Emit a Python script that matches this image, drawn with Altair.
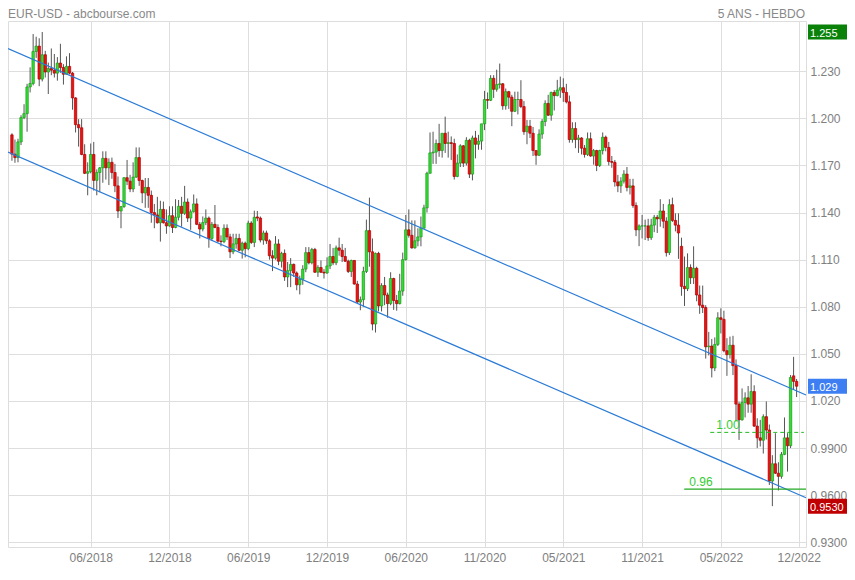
import json
import altair as alt
import pandas as pd

# ---------------- data (weekly EUR-USD candles) ----------------
opens = [
    1.1895, 1.1772, 1.1750, 1.1850, 1.2005, 1.2030, 1.2200, 1.2222, 1.2426, 1.2460,
    1.2250, 1.2405, 1.2295, 1.2317, 1.2307, 1.2288, 1.2352, 1.2324, 1.2281, 1.2331,
    1.2288, 1.2130, 1.1960, 1.1940, 1.1770, 1.1650, 1.1660, 1.1770, 1.1605, 1.1655,
    1.1685, 1.1745, 1.1685, 1.1720, 1.1655, 1.1570, 1.1410, 1.1438, 1.1622, 1.1600,
    1.1550, 1.1626, 1.1750, 1.1604, 1.1525, 1.1560, 1.1510, 1.1400, 1.1385, 1.1335,
    1.1420, 1.1335, 1.1315, 1.1380, 1.1305, 1.1370, 1.1440, 1.1395, 1.1467, 1.1365,
    1.1405, 1.1455, 1.1325, 1.1295, 1.1336, 1.1365, 1.1235, 1.1325, 1.1305, 1.1218,
    1.1215, 1.1300, 1.1245, 1.1150, 1.1200, 1.1235, 1.1160, 1.1205, 1.1170, 1.1333,
    1.1210, 1.1372, 1.1365, 1.1225, 1.1270, 1.1220, 1.1125, 1.1110, 1.1200, 1.1090,
    1.1140, 1.0990, 1.1030, 1.1070, 1.1015, 1.0940, 1.0975, 1.1040, 1.1145, 1.1080,
    1.1165, 1.1020, 1.1050, 1.1020, 1.1015, 1.1060, 1.1120, 1.1080, 1.1175, 1.1160,
    1.1120, 1.1090, 1.1025, 1.1095, 1.0945, 1.0830, 1.0845, 1.1025, 1.1285, 1.1150,
    1.0690, 1.1140, 1.0805, 1.0935, 1.0875, 1.0820, 1.0980, 1.0840, 1.0820, 1.0900,
    1.1100, 1.1290, 1.1255, 1.1175, 1.1220, 1.1245, 1.1300, 1.1430, 1.1650, 1.1780,
    1.1785, 1.1840, 1.1795, 1.1905, 1.1840, 1.1845, 1.1840, 1.1630, 1.1715, 1.1825,
    1.1715, 1.1860, 1.1645, 1.1875, 1.1835, 1.1855, 1.1965, 1.2120, 1.2115, 1.2255,
    1.2185, 1.2215, 1.2220, 1.2080, 1.2170, 1.2135, 1.2045, 1.2120, 1.2120, 1.2075,
    1.1915, 1.1950, 1.1905, 1.1795, 1.1765, 1.1900, 1.1980, 1.2095, 1.2020, 1.2165,
    1.2145, 1.2180, 1.2195, 1.2165, 1.2105, 1.1865, 1.1935, 1.1865, 1.1875, 1.1810,
    1.1770, 1.1870, 1.1760, 1.1795, 1.1700, 1.1795, 1.1880, 1.1815, 1.1725, 1.1720,
    1.1595, 1.1570, 1.1600, 1.1645, 1.1560, 1.1570, 1.1445, 1.1290, 1.1315, 1.1315,
    1.1315, 1.1240, 1.1320, 1.1370, 1.1360, 1.1410, 1.1345, 1.1145, 1.1450, 1.1350,
    1.1320, 1.1185, 1.0930, 1.0915, 1.1050, 1.0985, 1.1045, 1.0875, 1.0810, 1.0795,
    1.0545, 1.0550, 1.0410, 1.0560, 1.0730, 1.0720, 1.0520, 1.0495, 1.0555, 1.0425,
    1.0180, 1.0080, 1.0190, 1.0220, 1.0180, 1.0260, 1.0040, 0.9965, 0.9950, 1.0100,
    1.0015, 0.9690, 0.9800, 0.9740, 0.9720, 0.9860, 0.9965, 0.9915, 1.0360, 1.0325,
]
highs = [
    1.1905, 1.1865, 1.1870, 1.2020, 1.2090, 1.2220, 1.2325, 1.2537, 1.2520, 1.2510,
    1.2550, 1.2430, 1.2355, 1.2445, 1.2410, 1.2390, 1.2475, 1.2345, 1.2395, 1.2415,
    1.2295, 1.2135, 1.1995, 1.1995, 1.1835, 1.1720, 1.1840, 1.1850, 1.1675, 1.1690,
    1.1790, 1.1790, 1.1745, 1.1750, 1.1710, 1.1630, 1.1440, 1.1625, 1.1735, 1.1640,
    1.1720, 1.1815, 1.1815, 1.1610, 1.1620, 1.1620, 1.1540, 1.1455, 1.1500, 1.1475,
    1.1470, 1.1420, 1.1440, 1.1440, 1.1485, 1.1480, 1.1500, 1.1570, 1.1490, 1.1420,
    1.1515, 1.1490, 1.1340, 1.1375, 1.1420, 1.1375, 1.1340, 1.1448, 1.1325, 1.1255,
    1.1325, 1.1325, 1.1265, 1.1265, 1.1265, 1.1265, 1.1215, 1.1215, 1.1348, 1.1345,
    1.1412, 1.1410, 1.1375, 1.1285, 1.1285, 1.1230, 1.1160, 1.1250, 1.1230, 1.1150,
    1.1165, 1.1085, 1.1110, 1.1075, 1.1025, 1.0998, 1.1065, 1.1180, 1.1180, 1.1175,
    1.1175, 1.1065, 1.1095, 1.1040, 1.1115, 1.1200, 1.1175, 1.1190, 1.1240, 1.1200,
    1.1175, 1.1100, 1.1100, 1.1095, 1.0965, 1.0865, 1.1055, 1.1355, 1.1495, 1.1235,
    1.1145, 1.1150, 1.0950, 1.0990, 1.0890, 1.1020, 1.0985, 1.0875, 1.1010, 1.1145,
    1.1385, 1.1420, 1.1350, 1.1350, 1.1300, 1.1375, 1.1450, 1.1660, 1.1910, 1.1915,
    1.1865, 1.1965, 1.1905, 1.2011, 1.1915, 1.1885, 1.1870, 1.1770, 1.1835, 1.1830,
    1.1880, 1.1870, 1.1890, 1.1920, 1.1895, 1.1965, 1.2175, 1.2165, 1.2275, 1.2275,
    1.2310, 1.2349, 1.2225, 1.2190, 1.2175, 1.2150, 1.2170, 1.2170, 1.2243, 1.2110,
    1.1990, 1.1990, 1.1945, 1.1795, 1.1930, 1.1995, 1.2115, 1.2150, 1.2170, 1.2180,
    1.2245, 1.2266, 1.2255, 1.2220, 1.2145, 1.1975, 1.1975, 1.1895, 1.1880, 1.1830,
    1.1910, 1.1910, 1.1805, 1.1800, 1.1800, 1.1910, 1.1890, 1.1850, 1.1760, 1.1735,
    1.1640, 1.1625, 1.1670, 1.1690, 1.1615, 1.1615, 1.1465, 1.1325, 1.1385, 1.1355,
    1.1360, 1.1360, 1.1385, 1.1385, 1.1485, 1.1455, 1.1370, 1.1485, 1.1495, 1.1395,
    1.1395, 1.1240, 1.1120, 1.1140, 1.1070, 1.1185, 1.1055, 1.0935, 1.0935, 1.0810,
    1.0640, 1.0595, 1.0605, 1.0765, 1.0790, 1.0775, 1.0600, 1.0610, 1.0615, 1.0465,
    1.0195, 1.0280, 1.0255, 1.0295, 1.0370, 1.0300, 1.0090, 1.0080, 1.0115, 1.0197,
    1.0050, 0.9855, 0.9995, 0.9810, 0.9875, 1.0095, 0.9995, 1.0365, 1.0481, 1.0340,
]
lows = [
    1.1730, 1.1717, 1.1720, 1.1830, 1.1995, 1.1915, 1.2165, 1.2210, 1.2385, 1.2205,
    1.2235, 1.2260, 1.2155, 1.2275, 1.2260, 1.2240, 1.2290, 1.2215, 1.2280, 1.2280,
    1.2055, 1.1910, 1.1820, 1.1765, 1.1645, 1.1510, 1.1650, 1.1540, 1.1510, 1.1530,
    1.1590, 1.1610, 1.1575, 1.1615, 1.1530, 1.1365, 1.1300, 1.1430, 1.1575, 1.1530,
    1.1530, 1.1620, 1.1570, 1.1460, 1.1430, 1.1430, 1.1335, 1.1300, 1.1330, 1.1215,
    1.1330, 1.1265, 1.1310, 1.1270, 1.1300, 1.1350, 1.1310, 1.1385, 1.1340, 1.1290,
    1.1400, 1.1320, 1.1235, 1.1280, 1.1320, 1.1176, 1.1220, 1.1300, 1.1210, 1.1185,
    1.1205, 1.1225, 1.1110, 1.1135, 1.1170, 1.1155, 1.1107, 1.1115, 1.1160, 1.1200,
    1.1180, 1.1345, 1.1210, 1.1195, 1.1200, 1.1100, 1.1027, 1.1100, 1.1065, 1.1050,
    1.0965, 1.0925, 1.0925, 1.0990, 1.0905, 1.0879, 1.0940, 1.1020, 1.1070, 1.1070,
    1.1015, 1.0990, 1.1015, 1.0980, 1.1010, 1.1040, 1.1065, 1.1065, 1.1125, 1.1085,
    1.1085, 1.1015, 1.0990, 1.0940, 1.0825, 1.0778, 1.0800, 1.1015, 1.1055, 1.0650,
    1.0636, 1.0770, 1.0770, 1.0810, 1.0730, 1.0810, 1.0780, 1.0775, 1.0815, 1.0870,
    1.1095, 1.1240, 1.1170, 1.1170, 1.1185, 1.1185, 1.1300, 1.1400, 1.1650, 1.1710,
    1.1710, 1.1755, 1.1750, 1.1780, 1.1750, 1.1735, 1.1610, 1.1625, 1.1690, 1.1690,
    1.1700, 1.1620, 1.1605, 1.1745, 1.1800, 1.1800, 1.1925, 1.2060, 1.2110, 1.2130,
    1.2170, 1.2190, 1.2055, 1.2055, 1.2060, 1.1950, 1.2040, 1.2025, 1.2065, 1.1895,
    1.1835, 1.1875, 1.1760, 1.1704, 1.1760, 1.1870, 1.1950, 1.2015, 1.1985, 1.2050,
    1.2140, 1.2130, 1.2105, 1.2095, 1.1845, 1.1845, 1.1810, 1.1780, 1.1770, 1.1750,
    1.1760, 1.1755, 1.1705, 1.1664, 1.1690, 1.1770, 1.1790, 1.1700, 1.1685, 1.1565,
    1.1530, 1.1525, 1.1585, 1.1535, 1.1515, 1.1430, 1.1250, 1.1186, 1.1235, 1.1225,
    1.1220, 1.1225, 1.1275, 1.1270, 1.1310, 1.1300, 1.1120, 1.1130, 1.1340, 1.1280,
    1.1105, 1.0870, 1.0805, 1.0900, 1.0945, 1.0945, 1.0835, 1.0755, 1.0760, 1.0470,
    1.0490, 1.0350, 1.0390, 1.0550, 1.0630, 1.0510, 1.0360, 1.0470, 1.0365, 1.0070,
    0.9952, 1.0075, 1.0095, 1.0125, 1.0125, 1.0035, 0.9900, 0.9910, 0.9865, 0.9955,
    0.9665, 0.9530, 0.9735, 0.9630, 0.9705, 0.9855, 0.9750, 0.9900, 1.0270, 1.0225,
]
closes = [
    1.1772, 1.1750, 1.1850, 1.2005, 1.2030, 1.2200, 1.2222, 1.2426, 1.2460, 1.2250,
    1.2405, 1.2295, 1.2317, 1.2307, 1.2288, 1.2352, 1.2324, 1.2281, 1.2331, 1.2288,
    1.2130, 1.1960, 1.1940, 1.1770, 1.1650, 1.1660, 1.1770, 1.1605, 1.1655, 1.1685,
    1.1745, 1.1685, 1.1720, 1.1655, 1.1570, 1.1410, 1.1438, 1.1622, 1.1600, 1.1550,
    1.1626, 1.1750, 1.1604, 1.1525, 1.1560, 1.1510, 1.1400, 1.1385, 1.1335, 1.1420,
    1.1335, 1.1315, 1.1380, 1.1305, 1.1370, 1.1440, 1.1395, 1.1467, 1.1365, 1.1405,
    1.1455, 1.1325, 1.1295, 1.1336, 1.1365, 1.1235, 1.1325, 1.1305, 1.1218, 1.1215,
    1.1300, 1.1245, 1.1150, 1.1200, 1.1235, 1.1160, 1.1205, 1.1170, 1.1333, 1.1210,
    1.1370, 1.1365, 1.1225, 1.1270, 1.1220, 1.1125, 1.1110, 1.1200, 1.1090, 1.1140,
    1.0990, 1.1030, 1.1070, 1.1015, 1.0940, 1.0975, 1.1040, 1.1145, 1.1080, 1.1165,
    1.1020, 1.1050, 1.1020, 1.1015, 1.1060, 1.1120, 1.1080, 1.1175, 1.1160, 1.1120,
    1.1090, 1.1025, 1.1095, 1.0945, 1.0830, 1.0845, 1.1025, 1.1285, 1.1150, 1.0690,
    1.1140, 1.0805, 1.0935, 1.0875, 1.0820, 1.0980, 1.0840, 1.0820, 1.0900, 1.1100,
    1.1290, 1.1255, 1.1175, 1.1220, 1.1245, 1.1300, 1.1430, 1.1650, 1.1780, 1.1785,
    1.1840, 1.1795, 1.1905, 1.1840, 1.1845, 1.1840, 1.1630, 1.1715, 1.1825, 1.1715,
    1.1860, 1.1645, 1.1875, 1.1835, 1.1855, 1.1965, 1.2120, 1.2115, 1.2255, 1.2185,
    1.2215, 1.2220, 1.2080, 1.2170, 1.2135, 1.2045, 1.2120, 1.2120, 1.2075, 1.1915,
    1.1950, 1.1905, 1.1795, 1.1765, 1.1900, 1.1980, 1.2095, 1.2020, 1.2165, 1.2145,
    1.2180, 1.2195, 1.2165, 1.2105, 1.1865, 1.1935, 1.1865, 1.1875, 1.1810, 1.1770,
    1.1870, 1.1760, 1.1795, 1.1700, 1.1795, 1.1880, 1.1815, 1.1725, 1.1720, 1.1595,
    1.1570, 1.1600, 1.1645, 1.1560, 1.1570, 1.1445, 1.1290, 1.1315, 1.1315, 1.1315,
    1.1240, 1.1320, 1.1370, 1.1360, 1.1410, 1.1345, 1.1145, 1.1450, 1.1350, 1.1320,
    1.1270, 1.0930, 1.0915, 1.1050, 1.0985, 1.1045, 1.0875, 1.0810, 1.0795, 1.0545,
    1.0550, 1.0410, 1.0560, 1.0730, 1.0720, 1.0520, 1.0495, 1.0555, 1.0425, 1.0180,
    1.0080, 1.0190, 1.0220, 1.0180, 1.0260, 1.0040, 0.9965, 0.9950, 1.0100, 1.0015,
    0.9690, 0.9800, 0.9740, 0.9720, 0.9860, 0.9965, 0.9915, 1.0350, 1.0325, 1.0294,
]

# x-axis tick labels (bar index -> label)
tick_pos = [26, 52, 78, 104, 130, 156, 182, 208, 234, 259.7]
tick_labels = ["06/2018", "12/2018", "06/2019", "12/2019", "06/2020",
               "11/2020", "05/2021", "11/2021", "05/2022", "12/2022"]
y_ticks = [0.93, 0.96, 0.99, 1.02, 1.05, 1.08, 1.11, 1.14, 1.17, 1.20, 1.23]

# trend channel (two parallel lines) – endpoints in (bar index, price)
channel_x = [-1.3, 262.1]
channel_upper = [1.2444, 1.0238]
channel_lower = [1.1785, 0.9584]

# horizontal green levels
level_values = [1.00, 0.9638]
level_texts = ["1.00", "0.96"]
level_from = [230.5, 221.9]
level_to = [261.4, 262.1]
level_label_x = [232.5, 223.6]

title_left = "EUR-USD - abcbourse.com"
title_right = "5 ANS - HEBDO"

# ---------------- build ----------------
FONT = "Liberation Sans, Arial, sans-serif"
GRID = "#dedede"
TXT = "#808080"
W, H = 798, 526

n = len(closes)
df = pd.DataFrame({"i": list(range(n)), "open": opens, "high": highs,
                   "low": lows, "close": closes})
df["dir"] = ["up" if c >= o else "down" for o, c in zip(opens, closes)]

xs = alt.Scale(domain=[-1.3, 262.1], nice=False, zero=False, padding=0)
ys = alt.Scale(domain=[0.9270, 1.2620], nice=False, zero=False, padding=0)

x_label_expr = "{}[indexof({}, datum.value)]".format(json.dumps(tick_labels), json.dumps(tick_pos))
y_label_expr = "datum.value >= 1 ? format(datum.value, '.3f') : format(datum.value, '.4f')"

x_axis = alt.Axis(values=tick_pos, labelExpr=x_label_expr, grid=True, gridColor=GRID,
                  domain=False, ticks=False, labelColor=TXT, labelFont=FONT,
                  labelFontSize=12, labelPadding=5, labelOverlap=False,
                  labelFlush=False, title=None)
y_axis = alt.Axis(orient="right", values=y_ticks, labelExpr=y_label_expr, grid=True,
                  gridColor=GRID, domain=False, ticks=False, labelColor=TXT,
                  labelFont=FONT, labelFontSize=12, labelPadding=4,
                  labelOverlap=False, labelFlush=False, title=None)

wicks = alt.Chart(df).mark_rule(color="#555555", strokeWidth=1).encode(
    x=alt.X("i:Q", scale=xs, axis=x_axis),
    y=alt.Y("low:Q", scale=ys, axis=y_axis),
    y2="high:Q",
)

bodies = alt.Chart(df).mark_bar(size=2.4, strokeWidth=0.7).encode(
    x=alt.X("i:Q", scale=xs),
    y=alt.Y("open:Q", scale=ys),
    y2="close:Q",
    color=alt.Color("dir:N", scale=alt.Scale(domain=["up", "down"], range=["#33dd33", "#ee1111"]), legend=None),
    stroke=alt.Stroke("dir:N", scale=alt.Scale(domain=["up", "down"], range=["#1c9a1c", "#a80000"]), legend=None),
)

ch_df = pd.DataFrame({
    "line": ["upper", "upper", "lower", "lower"],
    "i": channel_x + channel_x,
    "v": channel_upper + channel_lower,
})
channel = alt.Chart(ch_df).mark_line(color="#2b7bd6", strokeWidth=1.2).encode(
    x=alt.X("i:Q", scale=xs), y=alt.Y("v:Q", scale=ys), detail="line:N")

lv_df = pd.DataFrame({"v": level_values, "x1": level_from, "x2": level_to,
                      "t": level_texts, "lx": level_label_x})
dashed = alt.Chart(lv_df.iloc[[0]]).mark_rule(color="#22bb22", strokeWidth=1, strokeDash=[4, 3]).encode(
    x=alt.X("x1:Q", scale=xs), x2="x2:Q", y=alt.Y("v:Q", scale=ys))
solid = alt.Chart(lv_df.iloc[[1]]).mark_rule(color="#22aa22", strokeWidth=1.2).encode(
    x=alt.X("x1:Q", scale=xs), x2="x2:Q", y=alt.Y("v:Q", scale=ys))
lv_text = alt.Chart(lv_df).mark_text(align="left", baseline="alphabetic", dy=-3,
                                     fontSize=12, font=FONT, color="#33cc33").encode(
    x=alt.X("lx:Q", scale=xs), y=alt.Y("v:Q", scale=ys), text="t:N")

def fmt(v):
    return "{:.3f}".format(v) if v >= 1 else "{:.4f}".format(v)

box_vals = [max(highs), closes[-1], min(lows)]
box_df = pd.DataFrame({"v": box_vals, "label": [fmt(v) for v in box_vals],
                       "c": ["#0a820a", "#3d7ff2", "#c00000"]})
boxes = alt.Chart(box_df).mark_rule(strokeWidth=15).encode(
    x=alt.value(W + 2), x2=alt.value(W + 41), y=alt.Y("v:Q", scale=ys),
    color=alt.Color("c:N", scale=None))
box_text = alt.Chart(box_df).mark_text(align="left", baseline="middle", fontSize=11,
                                       dy=2, font=FONT, color="white").encode(
    x=alt.value(W + 4), y=alt.Y("v:Q", scale=ys), text="label:N")

t_df = pd.DataFrame({"l": [title_left], "r": [title_right]})
t_left = alt.Chart(t_df).mark_text(align="left", baseline="alphabetic", fontSize=12,
                                   font=FONT, color="#888888").encode(
    x=alt.value(0), y=alt.value(-3), text="l:N")
t_right = alt.Chart(t_df).mark_text(align="right", baseline="alphabetic", fontSize=12,
                                    font=FONT, color="#888888").encode(
    x=alt.value(W - 1), y=alt.value(-3), text="r:N")

chart = alt.layer(wicks, bodies, channel, dashed, solid, lv_text, boxes, box_text,
                  t_left, t_right).properties(
    width=W, height=H,
    autosize=alt.AutoSizeParams(type="none"),
    padding={"left": 0, "top": 13, "right": 41, "bottom": 19},
    background="white",
).configure_view(stroke="#dddddd", strokeWidth=1)

chart.save("out.html", embed_options={"renderer": "svg", "actions": False})
